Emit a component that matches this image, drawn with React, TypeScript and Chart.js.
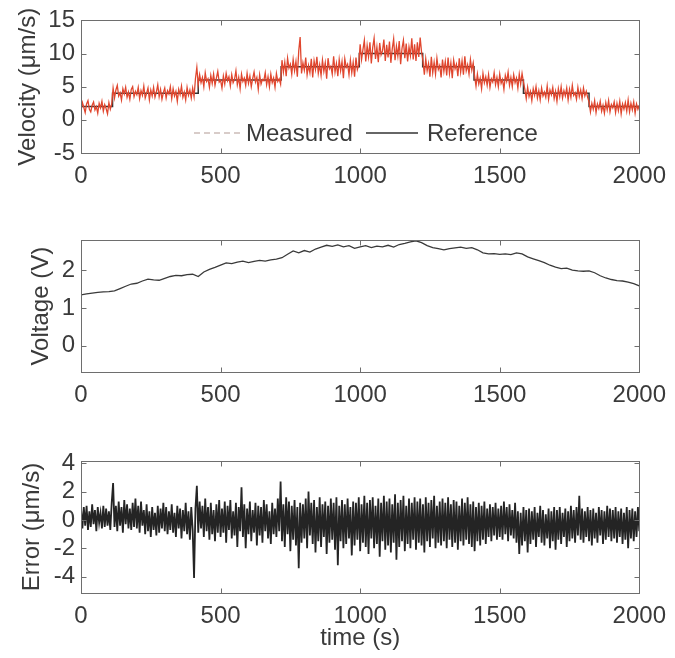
import { useEffect, useRef } from "react";
import { Chart, registerables } from "chart.js";

Chart.register(...registerables);

// ---------------- data ----------------
// Velocity panel: reference step profile
const refTimes = [0, 113, 420, 717, 997, 1224, 1408, 1585, 1820, 2000];
const refLevels = [2, 4, 6, 8, 10, 8, 6, 4, 2, 2];

// Measured velocity, sampled every 5 s (0..2000)
const measuredStep = 5;
const measuredVelocity = [
  // ~2 um/s (0-110 s)
  1.4, 2.6, 1.9, 1.1, 2.4, 2.9, 1.6, 1.2, 2.2, 2.7, 1.5, 2.0, 1.0, 2.5, 1.8, 2.8, 1.3, 2.3, 1.7, 0.9, 2.6, 1.6, 2.4,
  // ~4 um/s (115-415 s)
  4.8, 3.3, 4.5, 5.2, 3.6, 4.1, 3.0, 4.7, 3.9, 4.9, 3.4, 4.2, 3.1, 4.6, 5.0, 3.5, 4.3, 3.8, 4.9, 3.2,
  4.4, 3.7, 5.1, 3.3, 4.0, 4.8, 3.0, 4.5, 3.6, 4.9, 3.4, 4.2, 5.3, 3.5, 4.6, 3.1, 4.1, 4.8, 3.3, 4.4,
  3.9, 5.0, 3.2, 4.7, 3.6, 4.3, 2.8, 4.6, 3.8, 5.1, 3.4, 4.2, 3.0, 4.9, 3.7, 4.5, 3.3, 4.8, 3.5, 6.2, 7.9,
  // ~6 um/s (420-715 s)
  5.3, 6.8, 5.6, 6.4, 5.0, 7.1, 5.8, 6.2, 4.9, 6.7, 5.5, 6.9, 5.2, 6.3, 7.3, 5.7, 6.0, 4.8, 6.6, 5.4,
  7.0, 5.9, 6.5, 5.1, 6.8, 5.6, 6.1, 7.4, 5.3, 6.4, 4.7, 6.9, 5.8, 6.3, 5.2, 7.0, 5.5, 6.6, 5.0, 6.2,
  7.2, 5.7, 6.4, 4.6, 6.8, 5.4, 6.1, 5.9, 7.1, 5.3, 6.5, 5.0, 6.9, 5.6, 6.3, 4.9, 7.0, 5.8, 6.2, 5.4,
  // ~8 um/s (720-995 s)
  9.0, 7.2, 8.7, 6.6, 9.3, 7.8, 8.4, 6.9, 9.1, 7.4, 8.8, 6.5, 10.4, 12.5, 7.0, 8.6, 7.5, 9.4, 6.8, 8.2,
  7.1, 9.2, 6.4, 8.9, 7.6, 9.5, 7.0, 8.3, 6.7, 9.0, 7.3, 8.6, 6.2, 9.3, 7.7, 8.1, 6.9, 9.6, 7.2, 8.5,
  6.6, 9.1, 7.4, 8.8, 6.3, 9.2, 7.9, 8.4, 6.8, 9.0, 7.1, 8.7, 6.5, 9.4, 7.6, 8.3,
  // ~10 um/s (1000-1220 s)
  11.4, 9.1, 10.6, 12.0, 8.8, 11.2, 9.5, 11.7, 8.5, 10.9, 12.3, 9.2, 11.0, 8.7, 11.6, 9.8, 10.4, 12.1, 8.9, 11.3,
  9.4, 11.8, 8.6, 10.7, 12.2, 9.0, 11.1, 9.6, 11.9, 8.4, 10.8, 12.0, 9.3, 11.5, 8.8, 11.0, 9.7, 12.3, 9.1, 11.4,
  8.9, 11.7, 9.5, 12.4, 10.2,
  // ~8 um/s (1225-1405 s)
  8.9, 6.8, 9.2, 7.4, 8.5, 6.5, 9.5, 7.1, 8.7, 6.9, 9.3, 7.6, 8.2, 6.4, 9.1, 7.3, 8.8, 6.7, 9.4, 7.0,
  8.6, 6.3, 9.0, 7.7, 8.4, 6.6, 9.3, 7.2, 8.9, 6.8, 9.6, 7.4, 8.3, 6.9, 9.1, 7.5, 8.6,
  // ~6 um/s (1410-1585 s)
  6.6, 5.1, 6.9, 5.4, 6.3, 4.7, 7.0, 5.6, 6.5, 5.2, 6.8, 4.9, 6.2, 5.7, 7.1, 5.3, 6.4, 5.0, 6.9, 5.5,
  6.1, 4.6, 6.7, 5.8, 7.2, 5.2, 6.4, 5.0, 6.8, 5.6, 6.3, 4.8, 6.9, 5.4, 7.0, 5.7,
  // ~4 um/s (1590-1815 s)
  4.6, 3.2, 4.9, 3.5, 4.3, 2.9, 4.7, 3.7, 5.0, 3.3, 4.4, 3.0, 4.8, 3.6, 4.2, 3.4, 5.1, 3.1, 4.5, 3.8,
  4.9, 3.2, 4.3, 2.8, 4.7, 3.5, 5.0, 3.3, 4.4, 3.6, 4.8, 3.0, 4.6, 3.4, 5.2, 3.7, 4.1, 3.1, 4.9, 3.5,
  4.5, 3.2, 4.8, 3.6, 4.3, 3.4,
  // ~2 um/s (1820-2000 s)
  2.7, 1.2, 2.5, 1.6, 2.9, 1.1, 2.4, 1.7, 2.8, 1.3, 2.2, 1.0, 2.6, 1.5, 2.9, 1.2, 2.3, 1.8, 2.7, 1.1,
  2.5, 1.4, 2.8, 0.9, 2.4, 1.6, 2.6, 1.3, 3.0, 1.2, 2.5, 1.5, 2.7, 1.0, 2.4, 1.6, 2.2,
];

// Voltage, sampled every 20 s (0..2000)
const voltageStep = 20;
const voltage = [
  1.35, 1.38, 1.40, 1.42, 1.43, 1.44, 1.46, 1.52, 1.58, 1.64,
  1.66, 1.72, 1.77, 1.75, 1.74, 1.79, 1.84, 1.87, 1.86, 1.89,
  1.90, 1.84, 1.96, 2.03, 2.08, 2.14, 2.20, 2.18, 2.22, 2.25,
  2.21, 2.24, 2.27, 2.25, 2.28, 2.30, 2.34, 2.43, 2.52, 2.47,
  2.53, 2.49, 2.57, 2.62, 2.67, 2.64, 2.68, 2.63, 2.66, 2.59,
  2.63, 2.66, 2.61, 2.65, 2.63, 2.67, 2.62, 2.69, 2.72, 2.76,
  2.79, 2.74, 2.66, 2.61, 2.58, 2.55, 2.58, 2.60, 2.62, 2.59,
  2.61, 2.55, 2.47, 2.44, 2.45, 2.43, 2.44, 2.42, 2.47, 2.44,
  2.36, 2.31, 2.26, 2.21, 2.14, 2.09, 2.05, 2.06, 2.01, 1.99,
  1.98, 1.99, 1.94, 1.86, 1.80, 1.76, 1.73, 1.72, 1.69, 1.65,
  1.59,
];

// Tracking error, sampled every 5 s (0..2000)
const errorStep = 5;
const trackingError = [
  0.8, -0.6, 0.9, -0.4, 1.0, -0.7, 0.6, -0.5, 1.1, -0.3, 0.7, -0.8, 0.9, -0.2, 0.5, -0.6, 1.0, -0.5, 0.8, -0.4,
  0.6, -0.7, 1.2, 2.6, -0.5, 1.0, -0.8, 1.3, -0.4, 0.9, -0.9, 1.4, -0.3, 1.1, -0.6, 0.8, -0.7, 1.2, -0.5, 1.5,
  -0.6, 1.0, -0.9, 1.3, -0.4, 0.7, -1.0, 1.1, -0.8, 0.6, -1.2, 0.9, -0.7, 0.5, -1.1, 1.0, -0.9, 0.8, -0.6, 1.2,
  -0.8, 0.9, -1.0, 0.6, -0.7, 1.1, -0.9, 0.5, -1.2, 1.0, -0.6, 0.8, -1.3, 0.7, -0.8, 1.2, -1.0, 0.6, -1.4, 0.9,
  -0.7, -4.1, 0.8, 2.4, -0.9, 1.3, -0.6, 1.0, -1.2, 1.5, -0.8, 0.9, -1.4, 1.2, -1.0, 0.7, -1.5, 1.1, -0.9, 1.4,
  -1.2, 0.8, -0.9, 1.3, -1.6, 1.0, -0.7, 1.4, -1.3, 0.6, -1.1, 1.2, -1.9, 0.9, -0.8, 2.3, -1.2, 1.1, -2.0, 0.8,
  -1.0, 1.3, -1.5, 0.7, -0.9, 1.2, -1.8, 1.0, -1.1, 0.9, -1.6, 1.4, -0.8, 1.1, -1.3, 0.6, -1.7, 1.2, -1.0, 0.8,
  -1.2, 1.5, -0.8, 2.7, -1.5, 1.1, -1.9, 1.6, -1.0, 1.3, -2.2, 1.0, -1.4, 1.4, -1.8, 0.9, -3.4, 1.2, -1.6, 1.1,
  -1.3, 1.5, -2.0, 2.0, -1.1, 1.2, -1.7, 1.4, -2.3, 0.9, -1.5, 1.6, -1.9, 1.1, -1.2, 1.3, -2.4, 1.0, -1.6, 1.5,
  -1.4, 1.2, -2.1, 1.6, -3.2, 1.0, -1.5, 1.4, -2.0, 1.1, -1.7, 1.5, -1.3, 0.9, -2.5, 1.3, -1.8, 1.2, -1.4, 1.6,
  -2.2, 1.1, -1.6, 1.7, -1.9, 1.2, -2.4, 1.4, -1.3, 1.6, -2.0, 1.0, -1.7, 1.5, -2.6, 1.2, -1.5, 1.7, -2.1, 1.3,
  -1.8, 1.5, -2.3, 1.1, -1.6, 1.8, -2.8, 1.2, -1.9, 1.4, -1.5, 1.7, -2.2, 1.0, -1.7, 1.5, -2.0, 1.2, -1.4, 1.6,
  -2.1, 1.3, -1.6, 1.5, -1.8, 1.1, -2.3, 1.6, -1.5, 1.2, -1.9, 1.4, -1.3, 1.7, -2.0, 1.0, -1.6, 1.3, -1.8, 1.5,
  -1.5, 1.2, -2.0, 1.6, -1.4, 1.1, -1.9, 1.4, -1.6, 1.3, -2.1, 1.0, -1.5, 1.5, -1.8, 1.2, -1.4, 1.6, -1.7, 1.1,
  -1.9, 1.3, -2.2, 0.9, -1.5, 1.2, -1.8, 1.0, -1.4, 1.3, -1.7, 0.8, -1.2, 1.1, -1.5, 0.9, -1.1, 1.2, -1.4, 0.8,
  -1.2, 1.0, -1.4, 1.3, -1.0, 0.9, -1.5, 1.1, -1.1, 0.7, -1.3, 1.2, -1.6, 0.6, -2.4, 0.5, -1.8, 0.9, -1.5, 0.7,
  -2.3, 0.8, -1.7, 0.6, -1.4, 0.9, -1.9, 0.5, -1.2, 1.0, -1.6, 0.7, -1.8, 0.4, -1.3, 0.8, -2.0, 0.6, -1.5, 0.9,
  -2.1, 0.7, -1.4, 0.9, -1.7, 0.5, -1.2, 0.8, -1.9, 0.6, -1.5, 1.0, -1.3, 0.7, -1.6, 0.9, -1.1, 1.7, -1.4, 0.8,
  -1.6, 0.6, -1.2, 0.9, -1.5, 0.7, -1.8, 0.8, -1.3, 0.5, -1.6, 0.9, -1.1, 0.7, -1.7, 0.6, -1.4, 1.0, -1.2, 0.8,
  -1.5, 0.7, -1.3, 0.9, -1.6, 0.6, -1.2, 0.8, -1.7, 0.5, -1.4, 0.9, -2.0, 0.7, -1.3, 0.8, -1.5, 0.6, -1.2, 0.9,
  -0.8,
];

const xTickStep = 500;

// ---------------- styling ----------------
const FONT = '"Liberation Sans", Arial, Helvetica, sans-serif';
const TEXT = "#3a3a3a";
const BOX = "#6e6e6e";
const W = 675;

const toXY = (vals: number[], step: number) => vals.map((v, i) => ({ x: i * step, y: v }));

const boxPlugin = {
  id: "matlabBox",
  afterDatasetsDraw(chart: any) {
    const { ctx, chartArea: a, scales } = chart;
    const xs = scales.x;
    const ys = scales.y;
    const L = 5;
    ctx.save();
    ctx.strokeStyle = BOX;
    ctx.lineWidth = 1;
    const l = Math.round(a.left) + 0.5;
    const r = Math.round(a.right) + 0.5;
    const t = Math.round(a.top) + 0.5;
    const b = Math.round(a.bottom) + 0.5;
    ctx.strokeRect(l, t, r - l, b - t);
    ctx.beginPath();
    xs.ticks.forEach((tk: any) => {
      const px = Math.round(xs.getPixelForValue(tk.value)) + 0.5;
      ctx.moveTo(px, b);
      ctx.lineTo(px, b - L);
      ctx.moveTo(px, t);
      ctx.lineTo(px, t + L);
    });
    ys.ticks.forEach((tk: any) => {
      const py = Math.round(ys.getPixelForValue(tk.value)) + 0.5;
      ctx.moveTo(l, py);
      ctx.lineTo(l + L, py);
      ctx.moveTo(r, py);
      ctx.lineTo(r - L, py);
    });
    ctx.stroke();
    ctx.restore();
  },
};

const insideLegend = {
  id: "insideLegend",
  afterDatasetsDraw(chart: any, _args: any, opts: any) {
    if (!opts || !opts.items) return;
    const { ctx } = chart;
    ctx.save();
    ctx.font = `24px ${FONT}`;
    ctx.textBaseline = "middle";
    ctx.fillStyle = TEXT;
    opts.items.forEach((it: any) => {
      const ds = chart.data.datasets[it.index];
      ctx.beginPath();
      ctx.strokeStyle = it.sampleColor || ds.borderColor;
      ctx.lineWidth = it.sampleWidth || ds.borderWidth;
      ctx.setLineDash(it.dash || []);
      ctx.moveTo(it.x0, opts.y);
      ctx.lineTo(it.x1, opts.y);
      ctx.stroke();
      ctx.setLineDash([]);
      ctx.fillText(ds.label, it.tx, opts.y + 1);
    });
    ctx.restore();
  },
};

const plainNum = (v: any) => String(v);

function makeOptions(p: {
  yMin: number;
  yMax: number;
  yStep: number;
  yTitle: string;
  yTitlePad: number;
  xTitle?: string;
  padTop: number;
  xAxisHeight: number;
  legend?: any;
}) {
  return {
    responsive: false,
    animation: false,
    devicePixelRatio: 1,
    layout: { padding: { left: 0, right: 29, top: p.padTop, bottom: 0 } },
    plugins: {
      legend: { display: false },
      tooltip: { enabled: false },
      insideLegend: p.legend || {},
    },
    elements: { point: { radius: 0 } },
    scales: {
      x: {
        type: "linear",
        min: 0,
        max: 2000,
        grid: { display: false, drawTicks: false },
        border: { display: false },
        ticks: {
          stepSize: xTickStep,
          color: TEXT,
          font: { family: FONT, size: 24 },
          padding: 9,
          maxRotation: 0,
          includeBounds: false,
          callback: plainNum,
        },
        title: p.xTitle
          ? {
              display: true,
              text: p.xTitle,
              color: TEXT,
              font: { family: FONT, size: 24 },
              padding: { top: 0, bottom: 5 },
            }
          : { display: false },
        afterFit: (s: any) => {
          s.height = p.xAxisHeight;
        },
      },
      y: {
        type: "linear",
        min: p.yMin,
        max: p.yMax,
        grid: { display: false, drawTicks: false },
        border: { display: false },
        ticks: {
          stepSize: p.yStep,
          color: TEXT,
          font: { family: FONT, size: 24 },
          padding: 6,
          includeBounds: false,
          callback: plainNum,
        },
        title: {
          display: true,
          text: p.yTitle,
          color: TEXT,
          font: { family: FONT, size: 24 },
          padding: { top: p.yTitlePad, bottom: 0 },
        },
        afterFit: (s: any) => {
          s.width = 81;
        },
      },
    },
  };
}

function Panel({ top, height, build }: { top: number; height: number; build: () => any }) {
  const ref = useRef<HTMLCanvasElement | null>(null);
  useEffect(() => {
    if (!ref.current) return;
    const chart = new Chart(ref.current, build());
    return () => chart.destroy();
  }, []);
  return (
    <canvas
      ref={ref}
      width={W}
      height={height}
      style={{ position: "absolute", left: 0, top, width: W, height }}
    />
  );
}

const buildVelocity = () => ({
  type: "line",
  data: {
    datasets: [
      {
        label: "Measured",
        data: toXY(measuredVelocity, measuredStep),
        borderColor: "rgb(224,70,46)",
        borderWidth: 1.3,
        pointRadius: 0,
        tension: 0,
      },
      {
        label: "Reference",
        data: refTimes.map((t, i) => ({ x: t, y: refLevels[i] })),
        borderColor: "#333333",
        borderWidth: 1.5,
        pointRadius: 0,
        stepped: "before",
      },
    ],
  },
  options: makeOptions({
    yMin: -5,
    yMax: 15,
    yStep: 5,
    yTitle: "Velocity (\u03bcm/s)",
    yTitlePad: 14,
    padTop: 20,
    xAxisHeight: 47,
    legend: {
      y: 133,
      items: [
        { index: 0, x0: 194, x1: 241, tx: 246, dash: [6, 4], sampleColor: "rgba(190,170,165,0.8)", sampleWidth: 1.5 },
        { index: 1, x0: 366, x1: 418, tx: 427 },
      ],
    },
  }),
  plugins: [boxPlugin, insideLegend],
});

const buildVoltage = () => ({
  type: "line",
  data: {
    datasets: [
      {
        label: "Voltage",
        data: toXY(voltage, voltageStep),
        borderColor: "#3a3a3a",
        borderWidth: 1.3,
        pointRadius: 0,
        tension: 0,
      },
    ],
  },
  options: makeOptions({
    yMin: -0.7,
    yMax: 2.8,
    yStep: 1,
    yTitle: "Voltage (V)",
    yTitlePad: 27,
    padTop: 19,
    xAxisHeight: 48,
  }),
  plugins: [boxPlugin],
});

const buildError = () => ({
  type: "line",
  data: {
    datasets: [
      {
        label: "Error",
        data: toXY(trackingError, errorStep),
        borderColor: "#242424",
        borderWidth: 1.8,
        pointRadius: 0,
        tension: 0,
      },
    ],
  },
  options: makeOptions({
    yMin: -5.15,
    yMax: 4.15,
    yStep: 2,
    yTitle: "Error (\u03bcm/s)",
    yTitlePad: 18,
    xTitle: "time (s)",
    padTop: 21,
    xAxisHeight: 65,
  }),
  plugins: [boxPlugin],
});

export default function App() {
  return (
    <div style={{ position: "absolute", left: 0, top: 0, width: W, height: 658, background: "#fff" }}>
      <Panel top={0} height={200} build={buildVelocity} />
      <Panel top={220} height={200} build={buildVoltage} />
      <Panel top={440} height={218} build={buildError} />
    </div>
  );
}
